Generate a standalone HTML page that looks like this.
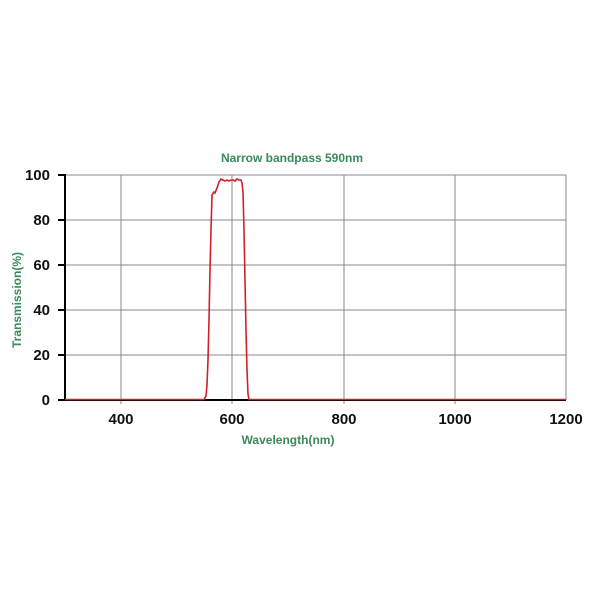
<!DOCTYPE html>
<html><head><style>body{margin:0;background:#fff}svg{display:block}</style></head><body>
<svg width="600" height="600" xmlns="http://www.w3.org/2000/svg" font-family="Liberation Sans, Arial, sans-serif">
<rect width="600" height="600" fill="#fff"/>
<g stroke="#888" stroke-width="1">
<line x1="65" y1="175" x2="566" y2="175"/>
<line x1="65" y1="220" x2="566" y2="220"/>
<line x1="65" y1="265" x2="566" y2="265"/>
<line x1="65" y1="310" x2="566" y2="310"/>
<line x1="65" y1="355" x2="566" y2="355"/>
<line x1="121" y1="175" x2="121" y2="404"/>
<line x1="232" y1="175" x2="232" y2="404"/>
<line x1="344" y1="175" x2="344" y2="404"/>
<line x1="455" y1="175" x2="455" y2="404"/>
<line x1="566" y1="175" x2="566" y2="400"/>
</g>
<g stroke="#000" stroke-width="2">
<line x1="65" y1="174" x2="65" y2="401"/>
<line x1="58" y1="400" x2="566" y2="400"/>
<line x1="58" y1="175" x2="65" y2="175"/>
<line x1="58" y1="220" x2="65" y2="220"/>
<line x1="58" y1="265" x2="65" y2="265"/>
<line x1="58" y1="310" x2="65" y2="310"/>
<line x1="58" y1="355" x2="65" y2="355"/>
</g>
<path d="M65,399.5 L204,399.5 L206,396 L207,385 L208,360 L209,320 L210,270 L211,230 L212,195 L214,192 L215,193 L217,188 L219,182 L221,179 L223,180 L225,181 L227,180 L229,181 L231,180 L233,180 L235,181 L237,179 L239,180 L241,180 L242,183 L243,192 L244,230 L245,280 L246,330 L247,370 L248,394 L249,399.5 L566,399.5" fill="none" stroke="#d0202a" stroke-width="1.6"/>
<g font-weight="bold" font-size="15" fill="#111">
<text x="50" y="180" text-anchor="end">100</text>
<text x="50" y="225" text-anchor="end">80</text>
<text x="50" y="270" text-anchor="end">60</text>
<text x="50" y="315" text-anchor="end">40</text>
<text x="50" y="360" text-anchor="end">20</text>
<text x="50" y="405" text-anchor="end">0</text>
<text x="121" y="424" text-anchor="middle">400</text>
<text x="232" y="424" text-anchor="middle">600</text>
<text x="344" y="424" text-anchor="middle">800</text>
<text x="455" y="424" text-anchor="middle">1000</text>
<text x="566" y="424" text-anchor="middle">1200</text>
</g>
<g font-weight="bold" font-size="12" fill="#3a8a5a">
<text x="292" y="162" text-anchor="middle">Narrow bandpass 590nm</text>
<text x="288" y="444" text-anchor="middle">Wavelength(nm)</text>
<text transform="translate(21,300) rotate(-90)" text-anchor="middle">Transmission(%)</text>
</g>
</svg>
</body></html>
